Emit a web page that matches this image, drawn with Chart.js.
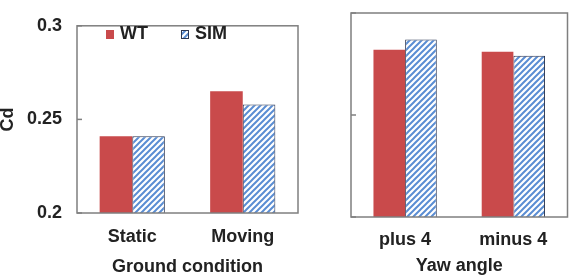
<!DOCTYPE html>
<html><head><meta charset="utf-8">
<script src="https://cdn.jsdelivr.net/npm/chart.js@4/dist/chart.umd.min.js"></script>
<style>
html,body{margin:0;padding:0;background:#fff;width:575px;height:278px;overflow:hidden}
#l{position:absolute;left:0;top:0}
#r{position:absolute;left:300px;top:0}
</style></head><body>
<canvas id="l" width="300" height="278"></canvas>
<canvas id="r" width="275" height="278"></canvas>
<script>
const groundCategories = ['Static', 'Moving'];
const yawCategories = ['plus 4', 'minus 4'];
const seriesNames = ['WT', 'SIM'];
const wtGround = [0.241, 0.265];
const simGround = [0.241, 0.258];
const wtYaw = [0.282, 0.281];
const simYaw = [0.287, 0.279];
const yTickValues = [0.2, 0.25, 0.3];
const yTickLabels = ['0.2', '0.25', '0.3'];
const groundTitle = 'Ground condition';
const yawTitle = 'Yaw angle';
const yTitle = 'Cd';

const FONT = "'Liberation Sans', Arial, sans-serif";
const TXT = '#222';
const RED = '#c94a4b';
const SIMBORDER = '#2b3550';

function makeHatch() {
  const s = 6, c = document.createElement('canvas');
  c.width = s; c.height = s;
  const g = c.getContext('2d');
  g.fillStyle = '#fff'; g.fillRect(0, 0, s, s);
  g.strokeStyle = '#5a8dd3'; g.lineWidth = 2;
  g.beginPath();
  g.moveTo(0, s); g.lineTo(s, 0);
  g.moveTo(-s / 2, s / 2); g.lineTo(s / 2, -s / 2);
  g.moveTo(s / 2, s * 1.5); g.lineTo(s * 1.5, s / 2);
  g.stroke();
  return g.createPattern(c, 'repeat');
}
const HATCH = makeHatch();

const framePlugin = {
  id: 'frame',
  afterDatasetsDraw(chart) {
    const { ctx, chartArea: a } = chart;
    const y = chart.scales.y;
    ctx.save();
    ctx.strokeStyle = '#7f7f7f';
    ctx.lineWidth = 1.5;
    ctx.strokeRect(a.left, a.top, a.right - a.left, a.bottom - a.top);
    yTickValues.forEach(v => {
      const py = y.getPixelForValue(v);
      ctx.beginPath(); ctx.moveTo(a.left, py); ctx.lineTo(a.left + 5, py); ctx.stroke();
    });
    ctx.restore();
  }
};

const legendPlugin = {
  id: 'innerLegend',
  afterDraw(chart) {
    const { ctx, chartArea: a } = chart;
    ctx.save();
    ctx.font = 'bold 18px ' + FONT;
    ctx.textBaseline = 'middle';
    let x = a.left + 29;
    const yc = 34.5;
    chart.data.datasets.forEach(ds => {
      ctx.fillStyle = ds.backgroundColor;
      ctx.fillRect(x, yc - 4.5, 8, 9);
      if (ds.borderWidth) {
        ctx.strokeStyle = ds.borderColor; ctx.lineWidth = 1;
        ctx.strokeRect(x + 0.5, yc - 4, 7, 8);
      }
      ctx.fillStyle = TXT;
      ctx.fillText(ds.label, x + 14, yc);
      x += 14 + ctx.measureText(ds.label).width + 33;
    });
    ctx.restore();
  }
};

function makeChart(id, cats, wt, sim, xTitle, opts) {
  return new Chart(document.getElementById(id), {
    type: 'bar',
    data: {
      labels: cats,
      datasets: [
        { label: seriesNames[0], data: wt, backgroundColor: RED, borderWidth: 0 },
        { label: seriesNames[1], data: sim, backgroundColor: HATCH, borderColor: SIMBORDER, borderWidth: 1 }
      ]
    },
    options: {
      responsive: false,
      animation: false,
      devicePixelRatio: 1,
      layout: { padding: opts.padding },
      datasets: { bar: { categoryPercentage: opts.cat, barPercentage: 1 } },
      plugins: { legend: { display: false }, tooltip: { enabled: false } },
      scales: {
        x: {
          grid: { display: false, drawTicks: false },
          border: { display: false },
          ticks: { font: { family: FONT, weight: 'bold', size: 18 }, color: TXT, padding: opts.xPad, maxRotation: 0 },
          title: { display: true, text: xTitle, font: { family: FONT, weight: 'bold', size: 18 }, color: TXT, padding: { top: 0, bottom: opts.xTitlePad } },
          afterFit(s) { s.height = opts.xH; }
        },
        y: {
          min: 0.2, max: 0.3,
          afterBuildTicks(s) { s.ticks = yTickValues.map(v => ({ value: v })); },
          grid: { display: false, drawTicks: false },
          border: { display: false },
          ticks: {
            display: opts.yLabels,
            font: { family: FONT, weight: 'bold', size: 18 }, color: TXT, padding: 15,
            callback: (v, i) => yTickLabels[i]
          },
          title: { display: opts.yLabels, text: yTitle, font: { family: FONT, weight: 'bold', size: 18 }, color: TXT, padding: { top: -3, bottom: 0 } },
          afterFit(s) { s.width = opts.yW; }
        }
      }
    },
    plugins: opts.legend ? [framePlugin, legendPlugin] : [framePlugin]
  });
}

makeChart('l', groundCategories, wtGround, simGround, groundTitle,
  { padding: { top: 14, right: 2, left: 0, bottom: 0 }, cat: 0.59, xPad: 13, xTitlePad: 0, xH: 65, yW: 77, yLabels: true, legend: true });
makeChart('r', yawCategories, wtYaw, simYaw, yawTitle,
  { padding: { top: 13, right: 7.5, left: 0, bottom: 0 }, cat: 0.585, xPad: 12, xTitlePad: 1, xH: 61, yW: 51, yLabels: false, legend: false });
</script>
</body></html>
